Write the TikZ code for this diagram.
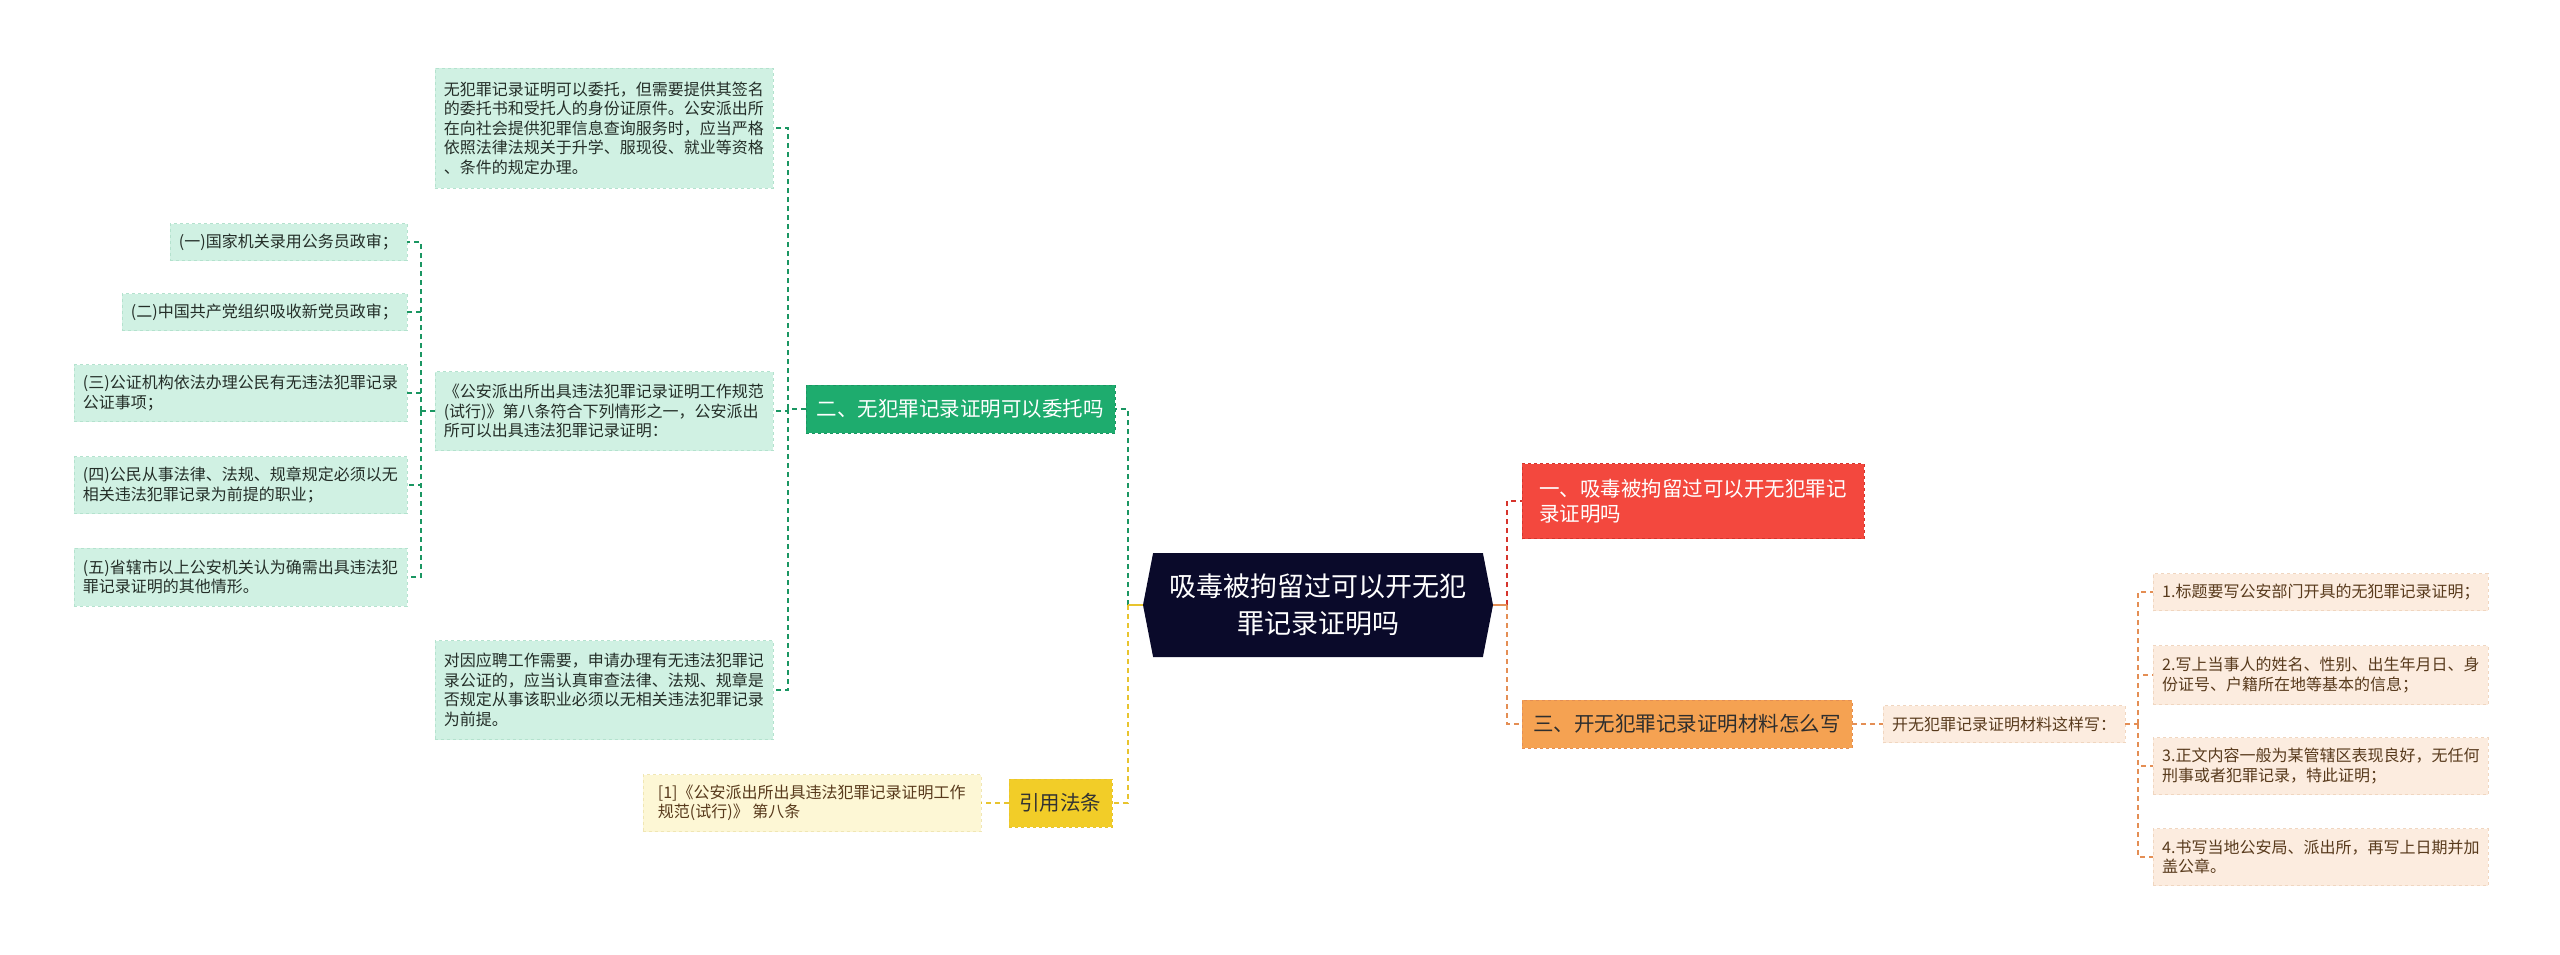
\documentclass[tikz,border=0pt]{standalone}
\usepackage{fontspec}
\setmainfont{Noto Sans CJK SC}
\usepackage{tikz}
\usetikzlibrary{shapes.symbols}
\definecolor{navy}{RGB}{10,10,42}
\definecolor{mintfill}{RGB}{208,241,227}
\definecolor{mintline}{RGB}{180,226,206}
\definecolor{grnfill}{RGB}{30,172,110}
\definecolor{grnline}{RGB}{26,150,98}
\definecolor{redfill}{RGB}{243,72,62}
\definecolor{redline}{RGB}{214,52,44}
\definecolor{orgfill}{RGB}{245,162,82}
\definecolor{orgline}{RGB}{228,142,84}
\definecolor{peach}{RGB}{252,236,223}
\definecolor{peachline}{RGB}{240,214,192}
\definecolor{ylwfill}{RGB}{242,205,40}
\definecolor{ylwline}{RGB}{232,196,46}
\definecolor{cream}{RGB}{253,247,213}
\definecolor{creamline}{RGB}{240,230,180}
\definecolor{leaftext}{RGB}{36,46,40}
\definecolor{browntext}{RGB}{88,58,28}
\newcommand{\leaffont}{\fontsize{16}{19.5}\selectfont}
\newcommand{\mainfont}{\fontsize{20.5}{25}\selectfont}
\newcommand{\rootfont}{\fontsize{27}{37}\selectfont}

\begin{document}
\begin{tikzpicture}[x=1pt, y=-1pt,
        leaf/.style={draw=mintline, dashed, fill=mintfill, align=left, font=\leaffont,
                     text=leaftext, inner xsep=9pt, inner ysep=4pt},
        pleaf/.style={leaf, draw=peachline, fill=peach, text=browntext},
        mainbox/.style={dashed, align=left, font=\mainfont, inner xsep=11pt, inner ysep=4pt,
                        minimum height=48pt},
        conn/.style={line width=1.6pt, dash pattern=on 5pt off 4pt},
        gline/.style={conn, draw=grnline},
        oline/.style={conn, draw=orgline},
        rline/.style={conn, draw=redline},
        yline/.style={conn, draw=ylwline}
    ]
    \fill[white] (0,0) rectangle (2560,955);
    \useasboundingbox (0,0) rectangle (2560,955);

    % centre
    \node[shape=signal, signal to=west and east, signal pointer angle=158, fill=navy,
          text=white, font=\rootfont, align=center, minimum width=350pt, minimum height=104pt,
          inner xsep=6pt] (root) at (1318,605) {吸毒被拘留过可以开无犯\\罪记录证明吗};

    % left side
    \node[mainbox, draw=grnline, fill=grnfill, text=white, anchor=east] (b2) at (1115,409) {二、无犯罪记录证明可以委托吗};
    \node[mainbox, draw=ylwline, fill=ylwfill, text=black!80, inner xsep=10.5pt, anchor=east] (ref) at (1112,803) {引用法条};
    \node[leaf, draw=creamline, fill=cream, text=browntext, minimum width=338pt, minimum height=57pt, anchor=east] (refdoc) at (981,803)
        {[1]《公安派出所出具违法犯罪记录证明工作\\规范(试行)》 第八条};

    \node[leaf, minimum height=120pt, anchor=east] (m1) at (773,128)
        {无犯罪记录证明可以委托，但需要提供其签名\\的委托书和受托人的身份证原件。公安派出所\\在向社会提供犯罪信息查询服务时，应当严格\\依照法律法规关于升学、服现役、就业等资格\\、条件的规定办理。};
    \node[leaf, minimum height=79pt, anchor=east] (m2) at (773,411)
        {《公安派出所出具违法犯罪记录证明工作规范\\(试行)》第八条符合下列情形之一，公安派出\\所可以出具违法犯罪记录证明：};
    \node[leaf, minimum height=99pt, anchor=east] (m3) at (773,690)
        {对因应聘工作需要，申请办理有无违法犯罪记\\录公证的，应当认真审查法律、法规、规章是\\否规定从事该职业必须以无相关违法犯罪记录\\为前提。};

    \node[leaf, minimum height=37pt, anchor=east] (l1) at (407,242) {(一)国家机关录用公务员政审；};
    \node[leaf, minimum height=37pt, anchor=east] (l2) at (407,312) {(二)中国共产党组织吸收新党员政审；};
    \node[leaf, minimum height=57pt, anchor=east] (l3) at (407,393) {(三)公证机构依法办理公民有无违法犯罪记录\\公证事项；};
    \node[leaf, minimum height=57pt, anchor=east] (l4) at (407,485) {(四)公民从事法律、法规、规章规定必须以无\\相关违法犯罪记录为前提的职业；};
    \node[leaf, minimum height=58pt, anchor=east] (l5) at (407,577) {(五)省辖市以上公安机关认为确需出具违法犯\\罪记录证明的其他情形。};

    % right side
    \node[mainbox, draw=redline, fill=redfill, text=white, minimum width=342pt, minimum height=75pt,
          anchor=west] (b1) at (1522,501) {一、吸毒被拘留过可以开无犯罪记\\录证明吗};
    \node[mainbox, draw=orgline, fill=orgfill, text=black!82, anchor=west] (b3) at (1522,724) {三、开无犯罪记录证明材料怎么写};
    \node[pleaf, minimum height=37pt, anchor=west] (how) at (1883,724) {开无犯罪记录证明材料这样写：};

    \node[pleaf, text width=317pt, minimum height=37pt, anchor=west] (r1) at (2153,592) {1.标题要写公安部门开具的无犯罪记录证明；};
    \node[pleaf, text width=317pt, minimum height=59pt, anchor=west] (r2) at (2153,675) {2.写上当事人的姓名、性别、出生年月日、身\\份证号、户籍所在地等基本的信息；};
    \node[pleaf, text width=317pt, minimum height=57pt, anchor=west] (r3) at (2153,766) {3.正文内容一般为某管辖区表现良好，无任何\\刑事或者犯罪记录，特此证明；};
    \node[pleaf, text width=317pt, minimum height=57pt, anchor=west] (r4) at (2153,857) {4.书写当地公安局、派出所，再写上日期并加\\盖公章。};

    % junctions
    \coordinate (lj) at (1128,605);
    \coordinate (rj) at (1507,605);
    \coordinate (t2) at (788,409);
    \coordinate (tl) at (421,411);
    \coordinate (tr) at (2138,724);

    % connectors
    \draw[gline] (lj) |- (b2.east);
    \draw[yline] (lj) |- (ref.east);
    \draw[line width=1.6pt, draw=ylwline] (root.west) -- (lj);
    \draw[yline] (ref.west) -- (refdoc.east);
    \draw[gline] (b2.west) -- (t2);
    \foreach \n in {m1,m2,m3}
        \draw[gline] (t2) |- (\n.east);
    \draw[gline] (m2.west) -- (tl);
    \foreach \n in {l1,l2,l3,l4,l5}
        \draw[gline] (tl) |- (\n.east);

    \draw[rline] (rj) |- (b1.west);
    \draw[oline] (rj) |- (b3.west);
    \draw[line width=1.6pt, draw=orgline] (root.east) -- (rj);
    \draw[oline] (b3.east) -- (how.west);
    \draw[oline] (how.east) -- (tr);
    \foreach \n in {r1,r2,r3,r4}
        \draw[oline] (tr) |- (\n.west);
\end{tikzpicture}
\end{document}
